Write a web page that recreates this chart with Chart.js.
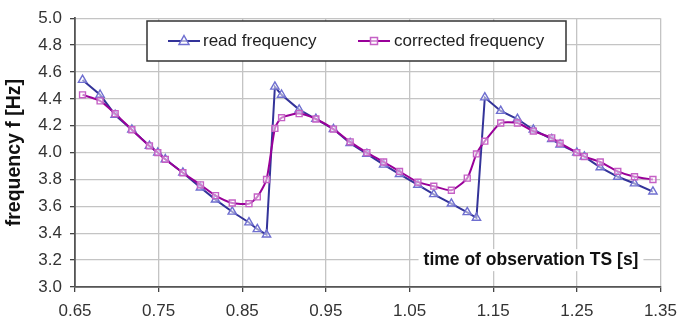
<!DOCTYPE html>
<html>
<head>
<meta charset="utf-8">
<script src="https://cdn.jsdelivr.net/npm/chart.js@4"></script>
<style>
  html, body { margin: 0; padding: 0; background: #fff; }
  #wrap { width: 686px; height: 324px; }
</style>
</head>
<body>
<div id="wrap"><canvas id="chart" width="686" height="324"></canvas></div>
<script>
// ===== Data =====
const obsTime = [0.659, 0.680, 0.698, 0.718, 0.739, 0.749, 0.758, 0.779, 0.800, 0.818,
                 0.838, 0.858, 0.868, 0.879, 0.889, 0.897, 0.918, 0.938, 0.959, 0.979,
                 0.999, 1.019, 1.038, 1.060, 1.079, 1.100, 1.119, 1.130, 1.140, 1.159,
                 1.179, 1.198, 1.220, 1.230, 1.250, 1.259, 1.278, 1.299, 1.319, 1.341];
const readFreq = [4.54, 4.43, 4.28, 4.17, 4.05, 4.00, 3.95, 3.85, 3.74, 3.65,
                  3.56, 3.48, 3.43, 3.39, 4.49, 4.43, 4.32, 4.25, 4.175, 4.07,
                  3.99, 3.91, 3.84, 3.76, 3.69, 3.62, 3.556, 3.515, 4.41, 4.31,
                  4.25, 4.17, 4.10, 4.06, 4.00, 3.97, 3.89, 3.82, 3.77, 3.71];
const correctedFreq = [4.43, 4.385, 4.29, 4.17, 4.05, 4.00, 3.95, 3.85, 3.76, 3.68,
                       3.625, 3.62, 3.67, 3.80, 4.18, 4.26, 4.29, 4.25, 4.175, 4.08,
                       4.00, 3.93, 3.86, 3.78, 3.75, 3.72, 3.81, 3.99, 4.085, 4.22,
                       4.22, 4.16, 4.11, 4.07, 4.00, 3.97, 3.93, 3.86, 3.82, 3.80];
const xTickValues = [0.65, 0.75, 0.85, 0.95, 1.05, 1.15, 1.25, 1.35];
const seriesNames = ["read frequency", "corrected frequency"];
const xTitle = "time of observation TS [s]";
const yTitle = "frequency f [Hz]";

const FONT = "'Liberation Sans', Arial, sans-serif";
const READ_LINE = "#333399", READ_MARK = "#6f6fd0";
const CORR_LINE = "#990099", CORR_MARK = "#c561c5";

function toPoints(ys) {
    return obsTime.map((t, i) => ({ x: t, y: ys[i] }));
}

// ===== Legend + x title drawn inside the plot =====
function drawMarker(ctx, style, x, y, color) {
    ctx.save();
    ctx.strokeStyle = color;
    ctx.fillStyle = "rgba(255,255,255,0.6)";
    ctx.lineWidth = 1.5;
    ctx.beginPath();
    if (style === "triangle") {
        ctx.moveTo(x, y - 5.5);
        ctx.lineTo(x + 5, y + 3.5);
        ctx.lineTo(x - 5, y + 3.5);
        ctx.closePath();
    } else {
        ctx.rect(x - 3.5, y - 3.5, 7, 7);
    }
    ctx.fill();
    ctx.stroke();
    ctx.restore();
}

const overlay = {
    id: "overlay",
    beforeDatasetsDraw(chart) {
        const ctx = chart.ctx;
        const yPos = chart.scales.y.getPixelForValue(3.2);
        ctx.save();
        ctx.font = "bold 17.5px " + FONT;
        const w = ctx.measureText(xTitle).width;
        const cx = 531;
        ctx.fillStyle = "#fff";
        ctx.fillRect(cx - w / 2 - 5, yPos - 11, w + 10, 22);
        ctx.fillStyle = "#111";
        ctx.textAlign = "center";
        ctx.textBaseline = "middle";
        ctx.fillText(xTitle, cx, yPos);
        ctx.restore();
    },
    afterDraw(chart) {
        const ctx = chart.ctx;
        ctx.save();
        ctx.fillStyle = "#fff";
        ctx.fillRect(147, 21, 419, 40);
        ctx.strokeStyle = "#333";
        ctx.lineWidth = 1.5;
        ctx.strokeRect(147, 21, 419, 40);

        const ly = 41;
        ctx.lineWidth = 2;
        ctx.strokeStyle = READ_LINE;
        ctx.beginPath(); ctx.moveTo(168, ly); ctx.lineTo(200, ly); ctx.stroke();
        drawMarker(ctx, "triangle", 184, ly, READ_MARK);
        ctx.strokeStyle = CORR_LINE;
        ctx.beginPath(); ctx.moveTo(358, ly); ctx.lineTo(390, ly); ctx.stroke();
        drawMarker(ctx, "rect", 374, ly, CORR_MARK);

        ctx.font = "17px " + FONT;
        ctx.fillStyle = "#222";
        ctx.textBaseline = "middle";
        ctx.textAlign = "left";
        ctx.fillText(seriesNames[0], 203, ly);
        ctx.fillText(seriesNames[1], 394, ly);
        ctx.restore();
    }
};

// ===== Chart =====
const ctx = document.getElementById("chart").getContext("2d");
new Chart(ctx, {
    type: "scatter",
    data: {
        datasets: [
            {
                label: seriesNames[1],
                data: toPoints(correctedFreq),
                showLine: true,
                tension: 0.2,
                borderColor: CORR_LINE,
                borderWidth: 2,
                pointStyle: "rect",
                pointRadius: 4.2,
                pointBorderColor: CORR_MARK,
                pointBackgroundColor: "rgba(255,255,255,0.5)",
                pointBorderWidth: 1.4
            },
            {
                label: seriesNames[0],
                data: toPoints(readFreq),
                showLine: true,
                borderColor: READ_LINE,
                borderWidth: 2,
                pointStyle: "triangle",
                pointRadius: 4.8,
                pointBorderColor: READ_MARK,
                pointBackgroundColor: "rgba(255,255,255,0.5)",
                pointBorderWidth: 1.4
            }
        ]
    },
    options: {
        responsive: false,
        animation: false,
        devicePixelRatio: 1,
        layout: { padding: { left: 0, right: 19, top: 16, bottom: 0 } },
        plugins: { legend: { display: false }, tooltip: { enabled: false } },
        scales: {
            x: {
                type: "linear",
                min: 0.65,
                max: 1.35,
                afterFit: s => { s.height = 37; },
                afterBuildTicks: s => {
                    s.ticks = xTickValues.map(v => ({ value: v }));
                },
                ticks: {
                    callback: v => v.toFixed(2),
                    font: { family: FONT, size: 17 },
                    color: "#333",
                    padding: 9,
                    maxRotation: 0
                },
                grid: { color: "#c4c4c4", lineWidth: 1.3, tickLength: 5, tickColor: "#444" },
                border: { color: "#555", width: 1.8 }
            },
            y: {
                min: 3.0,
                max: 5.0,
                afterFit: s => { s.width = 75; },
                ticks: {
                    stepSize: 0.2,
                    callback: v => v.toFixed(1),
                    font: { family: FONT, size: 17 },
                    color: "#333",
                    padding: 8
                },
                grid: { color: "#c4c4c4", lineWidth: 1.3, tickLength: 5, tickColor: "#444" },
                border: { color: "#555", width: 1.8 },
                title: {
                    display: true,
                    text: yTitle,
                    font: { family: FONT, size: 19.5, weight: "bold" },
                    color: "#111",
                    padding: { top: 3, bottom: 0 }
                }
            }
        }
    },
    plugins: [overlay]
});
</script>
</body>
</html>
